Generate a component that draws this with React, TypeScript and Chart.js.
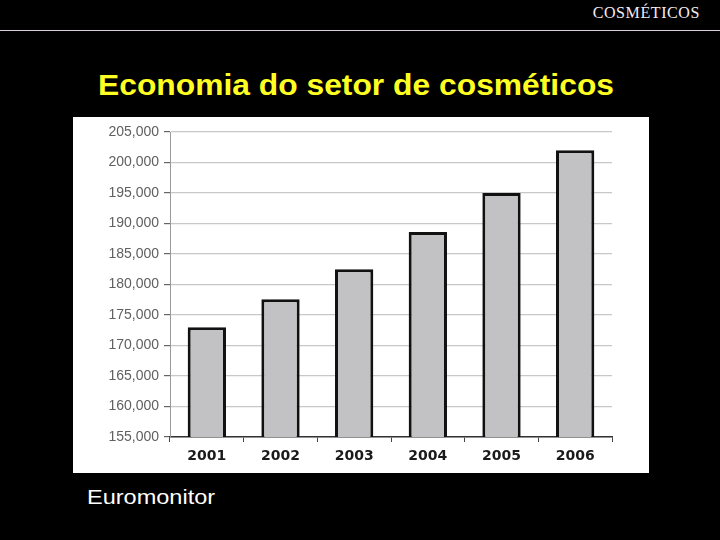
import { useEffect, useRef } from "react"
import { Chart, registerables, type ChartConfiguration } from "chart.js"

Chart.register(...registerables)

const years = ["2001", "2002", "2003", "2004", "2005", "2006"]
const marketValues = [173000, 177600, 182500, 188600, 195000, 202000]
const yMin = 155000
const yMax = 205000
const yStep = 5000

function SalesChart() {
  const canvasRef = useRef<HTMLCanvasElement>(null)
  const chartInstance = useRef<Chart | null>(null)

  useEffect(() => {
    if (!canvasRef.current) return
    const ctx = canvasRef.current.getContext("2d")
    if (!ctx) return

    if (chartInstance.current) {
      chartInstance.current.destroy()
    }

    const config: ChartConfiguration<"bar"> = {
      type: "bar",
      data: {
        labels: years,
        datasets: [
          {
            data: marketValues,
            backgroundColor: "#c2c1c3",
            borderColor: "#111111",
            borderWidth: 3,
            borderSkipped: false,
            barPercentage: 0.52,
            categoryPercentage: 1,
          },
        ],
      },
      options: {
        animation: false,
        responsive: false,
        maintainAspectRatio: false,
        layout: { padding: { left: 0, top: 15, right: 37, bottom: 0 } },
        plugins: {
          legend: { display: false },
          tooltip: { enabled: false },
        },
        scales: {
          x: {
            offset: true,
            grid: {
              offset: true,
              drawOnChartArea: false,
              drawTicks: true,
              tickLength: 5,
              color: "#444444",
            },
            border: { color: "#333333", width: 1.5 },
            ticks: {
              color: "#1a1a1a",
              font: { family: "DejaVu Sans", size: 14, weight: "bold" },
              padding: 6,
            },
            afterFit: (scale) => {
              scale.height = 36
            },
          },
          y: {
            min: yMin,
            max: yMax,
            grid: {
              color: "#c8c8c8",
              lineWidth: 1.2,
              tickLength: 6,
              tickColor: "#666666",
            },
            border: { color: "#999999", width: 1 },
            ticks: {
              stepSize: yStep,
              color: "#606060",
              padding: 5,
              font: { family: "Liberation Sans", size: 14 },
              callback: (value) => Number(value).toLocaleString("en-US"),
            },
            afterFit: (scale) => {
              scale.width = 97
            },
          },
        },
      },
    }

    chartInstance.current = new Chart(ctx, config)

    return () => {
      if (chartInstance.current) {
        chartInstance.current.destroy()
        chartInstance.current = null
      }
    }
  }, [])

  return (
    <canvas
      ref={canvasRef}
      width={576}
      height={356}
      style={{ position: "absolute", left: 73, top: 117, width: 576, height: 356, background: "#ffffff" }}
    />
  )
}

export default function App() {
  return (
    <div
      style={{
        position: "fixed",
        left: 0,
        top: 0,
        width: 720,
        height: 540,
        background: "#000000",
        overflow: "hidden",
      }}
    >
      <div
        style={{
          position: "absolute",
          right: 20,
          top: 4,
          color: "#f4ecf4",
          fontFamily: "'Liberation Serif', serif",
          fontSize: 16,
          letterSpacing: 0.6,
        }}
      >
        COSMÉTICOS
      </div>
      <div style={{ position: "absolute", left: 0, top: 30, width: 720, height: 1, background: "#d8cfe0" }} />
      <div
        style={{
          position: "absolute",
          left: 0,
          width: 712,
          top: 68,
          textAlign: "center",
          color: "#ffff22",
          fontFamily: "'Liberation Sans', Arial, sans-serif",
          fontWeight: "bold",
          fontSize: 30,
          transform: "scaleX(1.06)",
          transformOrigin: "356px 0",
        }}
      >
        Economia do setor de cosméticos
      </div>
      <SalesChart />
      <div
        style={{
          position: "absolute",
          left: 87,
          top: 485,
          color: "#ffffff",
          fontFamily: "'Liberation Sans', Arial, sans-serif",
          fontSize: 21,
          transform: "scaleX(1.12)",
          transformOrigin: "0 0",
        }}
      >
        Euromonitor
      </div>
    </div>
  )
}
